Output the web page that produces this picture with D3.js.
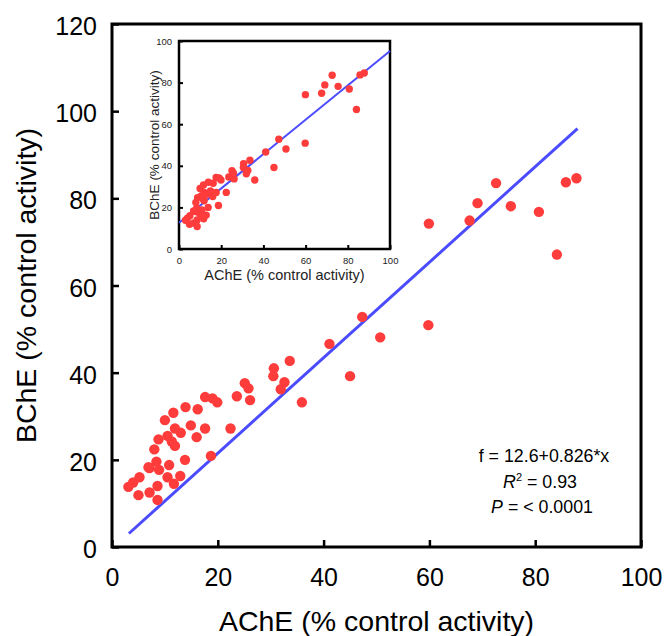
<!DOCTYPE html>
<html><head><meta charset="utf-8">
<script src="https://cdn.jsdelivr.net/npm/d3@7"></script>
<style>html,body{margin:0;padding:0;background:#fff;}svg{display:block;font-family:"Liberation Sans",Arial,sans-serif;}</style>
</head><body>
<script>
// Data (AChE vs BChE, % control activity)
const ache = [3.1,4.0,5.2,5.0,7.1,8.6,8.6,7.1,6.9,8.4,8.9,10.8,10.5,11.7,12.9,13.8,8.0,8.8,10.5,11.3,11.9,11.9,13.0,10.0,11.6,13.9,14.9,16.0,17.6,16.2,17.6,19.0,19.9,18.7,22.4,23.6,25.1,25.8,26.1,30.6,30.5,32.6,31.9,33.6,35.9,45.0,41.1,47.3,50.7,59.8,59.9,67.6,69.1,72.6,75.4,80.7,84.1,85.8,87.8];
const bche = [13.8,14.8,16.0,11.9,12.5,10.8,14.0,18.1,18.3,19.6,17.7,18.8,16.0,14.5,16.3,20.0,22.4,24.7,25.5,24.2,23.2,27.2,26.2,29.1,30.8,32.1,27.9,25.2,27.2,31.6,34.4,34.1,33.2,20.9,27.2,34.6,37.6,36.4,33.7,41.0,39.2,37.8,36.2,42.7,33.2,39.2,46.6,52.8,48.1,50.9,74.2,74.9,78.9,83.5,78.2,76.9,67.1,83.7,84.6];
const mainLineX = [3.2, 88];
const mainLineY = [3.1, 96];
const fitIntercept = 12.6, fitSlope = 0.826;
const insetLineX = [0, 100];
const mainXTicks = [0,20,40,60,80,100];
const mainYTicks = [0,20,40,60,80,100,120];
const insetTicks = [0,20,40,60,80,100];
const xTitle = "AChE (% control activity)";
const yTitle = "BChE (% control activity)";
const eqText = "f = 12.6+0.826*x";

const W = 665, H = 636;
const svg = d3.select("body").append("svg").attr("width", W).attr("height", H);
const RED = "#ff3c3c", BLUE = "#4b4bff";

// ---------- Main plot ----------
const M = {l:112, r:641, t:24, b:547};
const x = d3.scaleLinear().domain([0,100]).range([M.l, M.r]);
const y = d3.scaleLinear().domain([0,120]).range([M.b, M.t]);

const gx = svg.append("g").attr("transform", `translate(0,${M.b})`)
  .call(d3.axisBottom(x).tickValues(mainXTicks).tickSizeInner(-7).tickSizeOuter(0).tickPadding(21));
const gy = svg.append("g").attr("transform", `translate(${M.l},0)`)
  .call(d3.axisLeft(y).tickValues(mainYTicks).tickSizeInner(-7).tickSizeOuter(0).tickPadding(15));
[gx, gy].forEach(g => {
  g.select(".domain").remove();
  g.selectAll(".tick line").attr("stroke", "#000").attr("stroke-width", 2.5);
  g.selectAll(".tick text").attr("fill", "#000").attr("font-size", 25).attr("font-family", "Liberation Sans, Arial, sans-serif");
});
gy.selectAll(".tick text").attr("dy", "0.42em");

svg.append("rect").attr("x", M.l).attr("y", M.t).attr("width", M.r - M.l).attr("height", M.b - M.t)
  .attr("fill", "none").attr("stroke", "#000").attr("stroke-width", 3);

svg.append("line")
  .attr("x1", x(mainLineX[0])).attr("y1", y(mainLineY[0]))
  .attr("x2", x(mainLineX[1])).attr("y2", y(mainLineY[1]))
  .attr("stroke", BLUE).attr("stroke-width", 3);

svg.append("g").selectAll("circle").data(ache).join("circle")
  .attr("cx", d => x(d)).attr("cy", (d,i) => y(bche[i])).attr("r", 5.2).attr("fill", RED);

svg.append("text").attr("x", (M.l+M.r)/2).attr("y", 631).attr("text-anchor", "middle")
  .attr("font-size", 28.5).text(xTitle);
svg.append("text").attr("transform", `translate(36,${(M.t+M.b)/2}) rotate(-90)`).attr("text-anchor", "middle")
  .attr("font-size", 28.5).text(yTitle);

// Annotation
const ax = 544;
svg.append("text").attr("x", ax).attr("y", 462).attr("text-anchor", "middle").attr("font-size", 17.8).text(eqText);
const t2 = svg.append("text").attr("x", ax - 4).attr("y", 488).attr("text-anchor", "middle").attr("font-size", 17.8);
t2.append("tspan").attr("font-style", "italic").text("R");
t2.append("tspan").attr("font-size", 11).attr("dy", -7).text("2");
t2.append("tspan").attr("dy", 7).text(" = 0.93");
const t3 = svg.append("text").attr("x", ax - 2).attr("y", 513).attr("text-anchor", "middle").attr("font-size", 17.8);
t3.append("tspan").attr("font-style", "italic").text("P");
t3.append("tspan").text(" = < 0.0001");

// ---------- Inset ----------
const I = {l:179, r:390, t:41, b:249};
const ix = d3.scaleLinear().domain([0,100]).range([I.l, I.r]);
const iy = d3.scaleLinear().domain([0,100]).range([I.b, I.t]);
const igx = svg.append("g").attr("transform", `translate(0,${I.b})`)
  .call(d3.axisBottom(ix).tickValues(insetTicks).tickSizeInner(-4).tickSizeOuter(0).tickPadding(8));
const igy = svg.append("g").attr("transform", `translate(${I.l},0)`)
  .call(d3.axisLeft(iy).tickValues(insetTicks).tickSizeInner(-4).tickSizeOuter(0).tickPadding(7));
[igx, igy].forEach(g => {
  g.select(".domain").remove();
  g.selectAll(".tick line").attr("stroke", "#000").attr("stroke-width", 2);
  g.selectAll(".tick text").attr("fill", "#222").attr("font-size", 9.5).attr("font-family", "Liberation Sans, Arial, sans-serif");
});
svg.append("rect").attr("x", I.l).attr("y", I.t).attr("width", I.r - I.l).attr("height", I.b - I.t)
  .attr("fill", "none").attr("stroke", "#000").attr("stroke-width", 2.5);
svg.append("line")
  .attr("x1", ix(insetLineX[0])).attr("y1", iy(fitIntercept + fitSlope*insetLineX[0]))
  .attr("x2", ix(insetLineX[1])).attr("y2", iy(fitIntercept + fitSlope*insetLineX[1]))
  .attr("stroke", BLUE).attr("stroke-width", 2);
svg.append("g").selectAll("circle").data(ache).join("circle")
  .attr("cx", d => ix(d)).attr("cy", (d,i) => iy(bche[i])).attr("r", 3.7).attr("fill", RED);
svg.append("text").attr("x", (I.l+I.r)/2).attr("y", 280).attr("text-anchor", "middle")
  .attr("font-size", 14.5).attr("fill", "#222").text(xTitle);
svg.append("text").attr("transform", `translate(159,${(I.t+I.b)/2}) rotate(-90)`).attr("text-anchor", "middle")
  .attr("font-size", 13.5).attr("fill", "#222").text(yTitle);
</script>
</body></html>
